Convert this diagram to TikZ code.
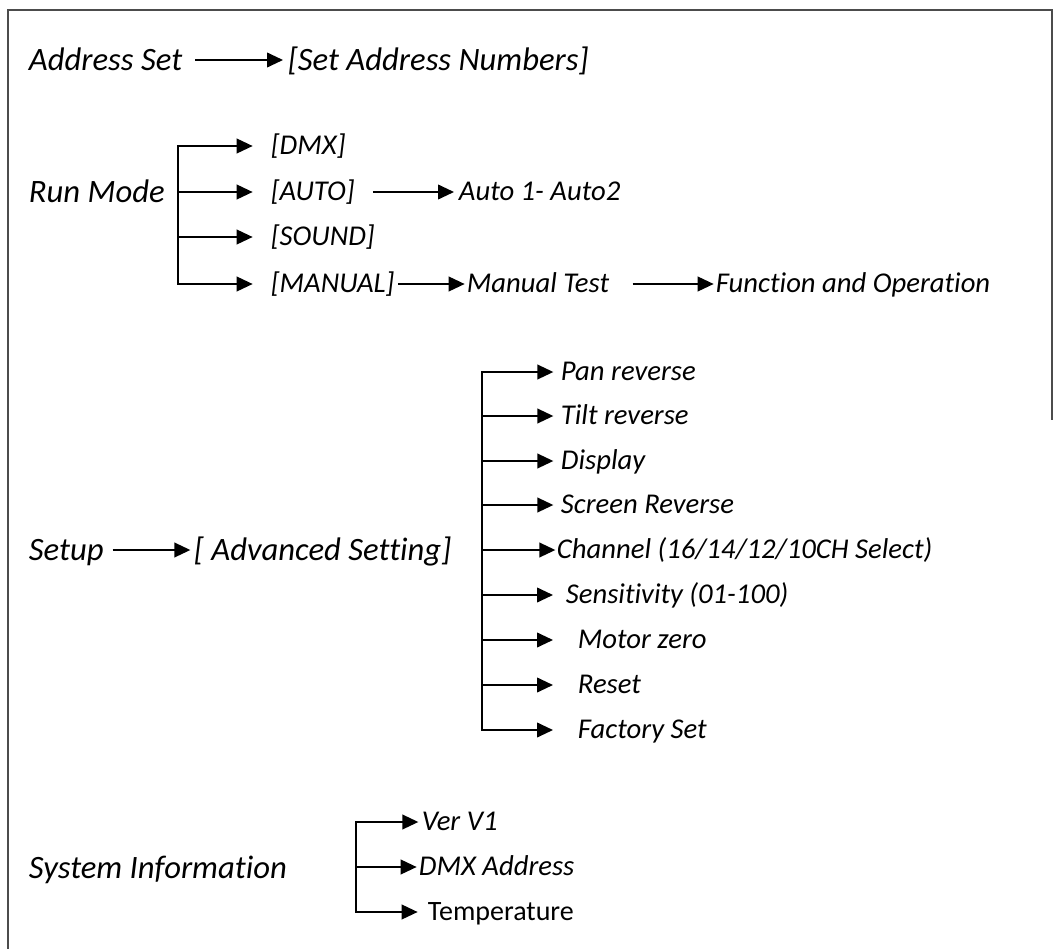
\documentclass[tikz,border=0pt]{standalone}
\usepackage{fontspec}
\setmainfont{Carlito}[Ligatures=NoCommon]
\usetikzlibrary{arrows.meta}
\newcommand{\topSize}[0]{\fontsize{24.5}{28}\selectfont\itshape}
\newcommand{\subSize}[0]{\fontsize{21.5}{25}\selectfont\itshape}

\begin{document}
\begin{tikzpicture}[x=0.75pt, y=-0.75pt, line width=1.4pt]
  \tikzset{
    top item/.style={anchor=west, inner sep=0pt, font=\topSize,
                     text height=16pt, text depth=1pt},
    sub item/.style={anchor=west, inner sep=0pt, font=\subSize,
                     text height=14pt, text depth=1pt},
    arr/.style={-{Triangle[length=12pt,width=11pt]}},
    bus/.style={line cap=rect},
  }
  \useasboundingbox (0,0) rectangle (1057,949);
  \draw[line width=1.5pt, black!70] (8,949) -- (8,10) -- (1052,10) -- (1052,420);

  % Address Set
  \node[top item] (aset) at (28,60) {Address Set};
  \node[top item] (setnum) at (287,60) {[Set Address Numbers]};
  \draw[arr, shorten <=9pt, shorten >=3pt] (aset) -- (setnum);

  % Run Mode
  \node[top item] (runmode) at (28,192) {Run Mode};
  \coordinate (rmbus) at (178,146);
  \node[sub item] (dmx) at (270,146) {[DMX]};
  \node[sub item] (auto) at (270,192) {[AUTO]};
  \node[sub item] (sound) at (270,237) {[SOUND]};
  \node[sub item] (manual) at (270,284) {[MANUAL]};
  \draw[bus] (rmbus) -- (rmbus |- manual);
  \foreach \n in {dmx,auto,sound,manual}
    \draw[arr, shorten >=13pt] (rmbus |- \n) -- (\n);
  \node[sub item] (autos) at (458,192) {Auto 1- Auto2};
  \draw[arr, shorten <=13pt, shorten >=3pt] (auto) -- (autos);
  \node[sub item] (mantest) at (466,284) {Manual Test};
  \draw[arr, shorten <=2pt, shorten >=1pt] (manual) -- (mantest);
  \node[sub item] (funcop) at (715,284) {Function and Operation};
  \draw[arr, shorten <=17pt, shorten >=1pt] (mantest) -- (funcop);

  % Setup
  \node[top item] (setup) at (28,550) {Setup};
  \node[top item] (adv) at (193,550) {[ Advanced Setting]};
  \draw[arr, shorten <=6pt, shorten >=2pt] (setup) -- (adv);
  \coordinate (adbus) at (482,372);
  \node[sub item] (pan) at (560,372) {Pan reverse};
  \node[sub item] (tilt) at (560,416) {Tilt reverse};
  \node[sub item] (disp) at (560,461) {Display};
  \node[sub item] (screen) at (560,505) {Screen Reverse};
  \node[sub item] (chan) at (556,550) {Channel (16/14/12/10CH Select)};
  \node[sub item] (sens) at (565,595) {Sensitivity (01-100)};
  \node[sub item] (motor) at (577,640) {Motor zero};
  \node[sub item] (reset) at (577,685) {Reset};
  \node[sub item] (factory) at (577,730) {Factory Set};
  \draw[bus] (adbus) -- (adbus |- factory);
  \foreach \n/\s in {pan/5pt,tilt/5pt,disp/5pt,screen/5pt,chan/0.5pt,
                     sens/9pt,motor/18pt,reset/18pt,factory/18pt}
    \draw[arr, shorten >=\s] (adbus |- \n) -- (\n);

  % System Information
  \node[top item] (sysinfo) at (28,868) {System Information};
  \coordinate (sibus) at (356,822);
  \node[sub item] (ver) at (421,822) {Ver V1};
  \node[sub item] (dmxaddr) at (418,867) {DMX Address};
  \node[sub item, font=\fontsize{21}{25}\selectfont] (temp) at (427,912) {Temperature};
  \draw[bus] (sibus) -- (sibus |- temp);
  \foreach \n/\s in {ver/2pt,dmxaddr/1pt,temp/7pt}
    \draw[arr, shorten >=\s] (sibus |- \n) -- (\n);
\end{tikzpicture}
\end{document}
